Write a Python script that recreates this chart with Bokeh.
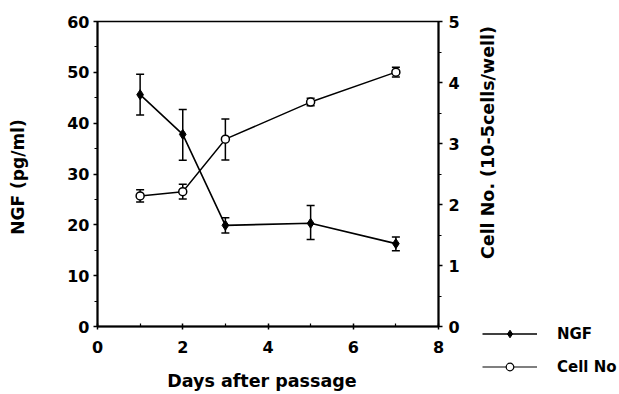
import math
from bokeh.plotting import figure
from bokeh.layouts import row
from bokeh.models import (Range1d, LinearAxis, Whisker, ColumnDataSource, Legend,
                          LegendItem, FixedTicker, TeeHead, Label)
from bokeh.embed import file_html
from bokeh.resources import INLINE

days = [1, 2, 3, 5, 7]
ngf = [45.6, 37.8, 19.9, 20.3, 16.3]
ngf_hi = [49.6, 42.7, 21.4, 23.8, 17.6]
ngf_lo = [41.6, 32.7, 18.4, 17.1, 14.9]
cell = [2.14, 2.21, 3.07, 3.68, 4.17]
cell_hi = [2.24, 2.33, 3.40, 3.74, 4.25]
cell_lo = [2.04, 2.09, 2.73, 3.62, 4.09]

x_ticks = [0, 2, 4, 6, 8]
y_ticks = [0, 10, 20, 30, 40, 50, 60]
y2_ticks = [0, 1, 2, 3, 4, 5]

FONT = "DejaVu Sans"

p = figure(width=470, height=394, output_backend="svg", toolbar_location=None,
           x_range=Range1d(0, 8), y_range=Range1d(0, 60),
           min_border_left=97, min_border_right=32, min_border_top=21,
           min_border_bottom=68)
p.extra_y_ranges = {"cell": Range1d(0, 5)}
p.xgrid.visible = False
p.ygrid.visible = False
p.outline_line_color = "black"
p.outline_line_width = 1.5
p.background_fill_color = "white"
p.border_fill_color = "white"

def style_axis(ax):
    ax.axis_line_width = 2
    ax.axis_line_color = "black"
    ax.major_tick_line_width = 1.5
    ax.minor_tick_line_width = 1.2
    ax.major_tick_out = 4
    ax.major_tick_in = 0
    ax.minor_tick_out = 3
    ax.minor_tick_in = 0
    ax.major_label_text_font = FONT
    ax.major_label_text_font_style = "bold"
    ax.major_label_text_font_size = "16px"
    ax.major_label_text_color = "black"
    ax.axis_label_text_font = FONT
    ax.axis_label_text_font_style = "bold"
    ax.axis_label_text_font_size = "17px"
    ax.axis_label_text_color = "black"

xa = p.xaxis[0]
xa.ticker = FixedTicker(ticks=x_ticks, minor_ticks=[1, 3, 5, 7])
xa.axis_label = "Days  after  passage"
style_axis(xa)
xa.axis_label_text_font_size = "17.5px"
xa.major_tick_out = 3
xa.major_tick_in = 3
xa.minor_tick_out = 0
xa.minor_tick_in = 3
xa.major_label_standoff = 11
xa.axis_label_standoff = 15

ya = p.yaxis[0]
ya.ticker = FixedTicker(ticks=y_ticks, minor_ticks=[5, 15, 25, 35, 45, 55])
ya.axis_label = "NGF  (pg/ml)"
style_axis(ya)
ya.major_label_standoff = 4
ya.axis_label_standoff = 36

ra = LinearAxis(y_range_name="cell")
ra.ticker = FixedTicker(ticks=y2_ticks, minor_ticks=[0.5, 1.5, 2.5, 3.5, 4.5])
style_axis(ra)
ra.major_label_standoff = 6
p.add_layout(ra, "right")

src_n = ColumnDataSource(dict(x=days, y=ngf, hi=ngf_hi, lo=ngf_lo))
src_c = ColumnDataSource(dict(x=days, y=cell, hi=cell_hi, lo=cell_lo))

wn = Whisker(source=src_n, base="x", upper="hi", lower="lo", line_width=1.5,
             upper_head=TeeHead(size=8, line_width=1.5),
             lower_head=TeeHead(size=8, line_width=1.5))
wc = Whisker(source=src_c, base="x", upper="hi", lower="lo", line_width=1.5,
             y_range_name="cell",
             upper_head=TeeHead(size=8, line_width=1.5),
             lower_head=TeeHead(size=8, line_width=1.5))
p.add_layout(wn)
p.add_layout(wc)

p.line("x", "y", source=src_n, line_color="black", line_width=1.6)
p.scatter("x", "y", source=src_n, marker="diamond", size=10,
          fill_color="black", line_color="black")
p.line("x", "y", source=src_c, line_color="black", line_width=1.4,
       y_range_name="cell")
p.scatter("x", "y", source=src_c, marker="circle", size=8,
          fill_color="white", line_color="black", line_width=1.5,
          y_range_name="cell")

# side panel: right-axis title and legend
s = figure(width=149, height=394, output_backend="svg", toolbar_location=None,
           x_range=Range1d(100, 101), y_range=Range1d(100, 101),
           x_axis_location=None, y_axis_location=None, title=None,
           min_border=0, min_border_left=0, min_border_right=0,
           min_border_top=0, min_border_bottom=0)
if "frame_align" in s.properties():
    s.frame_align = False
s.xgrid.visible = False
s.ygrid.visible = False
s.outline_line_color = None
s.background_fill_color = "white"
s.border_fill_color = "white"

sl_n = s.line("x", "y", source=src_n, line_color="black", line_width=1.6)
sm_n = s.scatter("x", "y", source=src_n, marker="diamond", size=10,
                 fill_color="black", line_color="black")
sl_c = s.line("x", "y", source=src_c, line_color="black", line_width=1.1)
sm_c = s.scatter("x", "y", source=src_c, marker="circle", size=8,
                 fill_color="white", line_color="black", line_width=1.2)

s.add_layout(Label(x=17, y=255, x_units="screen", y_units="screen",
                   text="Cell No.  (10-5cells/well)", angle=math.pi / 2,
                   text_align="center", text_baseline="middle",
                   text_font=FONT, text_font_style="bold",
                   text_font_size="17.5px", text_color="black"))

legend = Legend(items=[LegendItem(label="NGF", renderers=[sl_n, sm_n]),
                       LegendItem(label="Cell No", renderers=[sl_c, sm_c])],
                location=(12, 18), orientation="vertical",
                glyph_width=55, glyph_height=19, label_height=19, spacing=14,
                label_standoff=20, padding=0, margin=0,
                border_line_color=None, background_fill_alpha=0,
                label_text_font=FONT, label_text_font_style="bold",
                label_text_font_size="15px", label_text_color="black")
s.add_layout(legend, "center")

layout = row(p, s, spacing=0)
open("out.html", "w").write(file_html(layout, INLINE))
